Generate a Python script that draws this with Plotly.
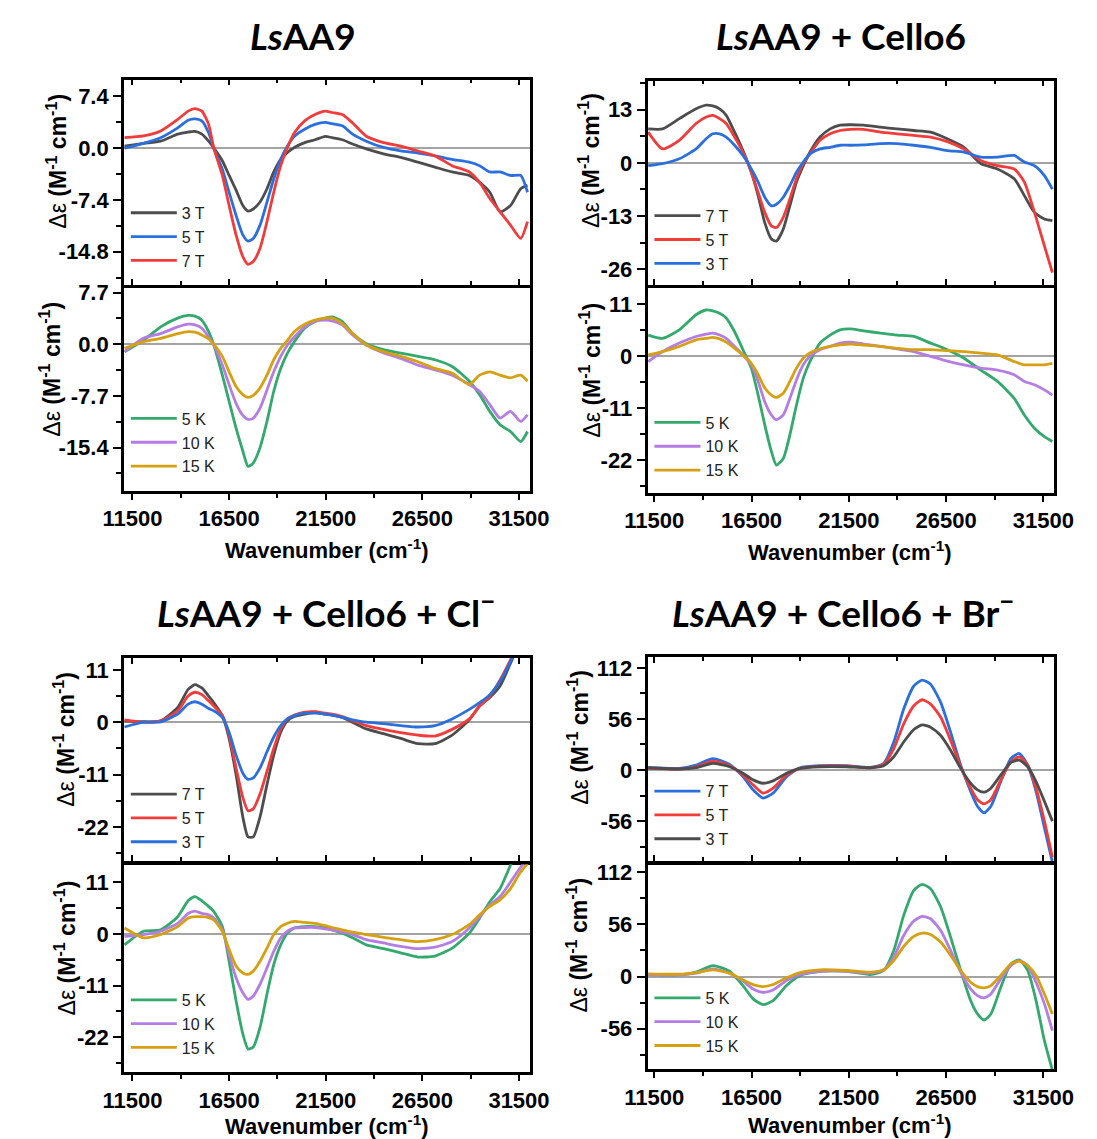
import plotly.graph_objects as go

# ---------------- data ----------------
# wavenumber grids, cm^-1
WN_P13 = [11090, 12070, 12960, 13840, 14380, 14730, 15090, 15440, 15710, 16150,
          16500, 16860, 17210, 17480, 17750, 18100, 18460, 18810, 19170, 19520,
          19880, 20410, 20940, 21470, 21830, 22360, 22890, 23600, 24490, 25380,
          26270, 27150, 28040, 28930, 29460, 29990, 30520, 31060, 31590, 31940]
WN_P2 = [11190, 11930, 12790, 13650, 14170, 14510, 14860, 15200, 15630, 16060,
         16490, 16840, 17180, 17520, 17780, 18130, 18470, 18810, 19160, 19500,
         20020, 20540, 21050, 21570, 22260, 23120, 23980, 24840, 25700, 26560,
         27420, 28280, 29140, 30000, 30520, 31040, 31550, 31960]
WN_P4 = [11190, 12790, 13650, 14510, 15370, 16060, 16580, 17090, 17610, 18300,
         18990, 20020, 21400, 22600, 23290, 23810, 24320, 24840, 25270, 25700,
         26220, 26730, 27250, 27760, 28110, 28450, 28800, 29310, 29830, 30260,
         30690, 31120, 31550, 31960]

# Panel 1: LsAA9
P1_3T = [0.3, 0.7, 1.0, 2.0, 2.3, 2.4, 2.0, 1.0, 0.0, -1.8, -3.9, -6.0, -8.2, -9.0, -8.7, -7.7, -5.8, -3.4, -1.6, -0.6,
         0.1, 0.8, 1.2, 1.7, 1.5, 1.2, 0.6, -0.1, -0.8, -1.3, -2.0, -2.7, -3.4, -3.9, -4.9, -6.3, -9.1, -8.2, -5.8, -5.3]
P1_5T = [0.0, 0.7, 1.5, 2.9, 4.0, 4.2, 3.9, 2.2, 0.0, -3.0, -6.3, -9.6, -12.4, -13.3, -12.9, -11.0, -7.7, -4.4, -1.6, 0.3,
         1.7, 2.7, 3.4, 3.7, 3.5, 3.2, 2.0, 1.0, 0.1, -0.4, -0.7, -1.1, -1.6, -2.0, -2.5, -3.4, -3.4, -3.9, -3.9, -6.3]
P1_7T = [1.5, 1.75, 2.45, 4.1, 5.3, 5.65, 5.3, 3.4, 0.0, -3.9, -8.2, -12.4, -15.5, -16.6, -16.2, -14.3, -10.5, -6.3, -2.5, 0.1,
         2.2, 3.9, 4.8, 5.3, 5.1, 4.8, 3.6, 1.7, 0.8, 0.3, -0.4, -1.1, -2.5, -3.4, -4.9, -7.2, -9.1, -11.0, -12.9, -10.5]
P1_5K = [-1.1, 0.6, 2.6, 3.9, 4.3, 4.2, 3.6, 1.9, -0.1, -4.6, -8.5, -12.5, -15.9, -18.2, -17.7, -15.4, -11.5, -7.0, -3.6, -1.3,
         0.4, 2.4, 3.4, 3.9, 4.1, 3.4, 1.6, 0.1, -0.8, -1.3, -1.8, -2.3, -3.3, -5.5, -7.5, -10.0, -12.0, -13.0, -14.5, -13.0]
P1_10K = [-1.1, 0.9, 1.6, 2.6, 3.0, 2.9, 2.4, 1.1, -0.1, -3.1, -6.0, -8.8, -10.6, -11.2, -11.0, -9.5, -6.8, -4.1, -1.8, -0.1,
          1.1, 2.6, 3.4, 3.6, 3.5, 2.9, 1.4, -0.1, -1.3, -2.1, -3.1, -3.8, -4.6, -6.0, -7.0, -9.0, -11.0, -10.0, -11.5, -10.5]
P1_15K = [-0.6, 0.4, 0.9, 1.6, 1.9, 1.8, 1.4, 0.8, 0.0, -1.8, -4.1, -6.3, -7.5, -7.9, -7.6, -6.5, -4.6, -2.3, -0.6, 0.6,
          1.9, 3.0, 3.6, 3.9, 3.9, 3.1, 1.6, -0.1, -1.1, -1.8, -2.6, -3.6, -4.3, -6.0, -4.6, -4.1, -4.6, -5.0, -4.6, -5.5]

# Panel 2: LsAA9 + Cello6
P2_7T = [8.3, 8.3, 10.8, 13.2, 14.1, 13.9, 13.2, 11.6, 7.5, 3.0, -2.3, -8.0, -14.6, -18.6, -19.1, -16.2, -10.5, -4.7, -0.7, 2.6,
         6.3, 8.3, 9.2, 9.3, 9.2, 8.7, 8.3, 7.9, 7.5, 5.9, 3.8, -0.2, -1.5, -3.9, -8.0, -12.1, -13.7, -14.1]
P2_5T = [7.5, 3.4, 5.5, 9.6, 11.2, 11.6, 10.8, 9.6, 6.3, 2.6, -2.3, -7.2, -12.1, -15.4, -15.8, -13.3, -8.8, -3.9, -0.2, 2.2,
         5.5, 7.1, 7.9, 8.2, 8.2, 7.5, 7.1, 6.7, 6.3, 5.2, 3.4, 0.6, -0.7, -1.5, -4.7, -12.1, -20.3, -26.8]
P2_3T = [-0.7, -0.2, 1.0, 3.4, 5.9, 7.1, 7.1, 6.3, 4.3, 1.8, -1.5, -4.7, -8.4, -10.5, -10.1, -8.4, -5.6, -2.3, 0.2, 2.2,
         3.4, 3.8, 4.3, 4.3, 4.4, 4.7, 4.7, 4.3, 3.8, 3.0, 2.6, 1.4, 1.4, 1.8, 0.2, -0.7, -3.1, -6.4]
P2_5K = [4.4, 3.7, 5.5, 8.7, 9.7, 9.5, 9.0, 8.0, 5.1, 1.3, -2.6, -8.3, -14.6, -20.2, -23.1, -21.7, -16.7, -10.4, -4.7, -1.2,
         2.7, 4.4, 5.5, 5.7, 5.3, 4.8, 4.4, 4.1, 2.7, 1.3, -0.5, -3.0, -5.4, -9.0, -12.5, -15.3, -17.1, -18.1]
P2_10K = [-1.2, 0.9, 2.7, 4.1, 4.6, 4.8, 4.4, 3.7, 2.0, 0.2, -1.9, -5.4, -9.7, -12.5, -13.5, -12.5, -9.0, -5.1, -1.9, -0.1,
          1.3, 2.0, 2.7, 2.9, 2.5, 2.0, 1.5, 0.9, -0.1, -1.1, -1.9, -2.6, -3.0, -4.0, -5.4, -6.1, -7.2, -8.3]
P2_15K = [0.2, 0.9, 2.0, 3.4, 3.7, 3.9, 3.6, 2.9, 1.6, 0.2, -1.6, -4.0, -6.8, -8.3, -8.8, -7.9, -5.4, -2.6, -0.5, 0.6,
          1.5, 2.0, 2.3, 2.5, 2.3, 2.0, 1.6, 1.3, 1.3, 1.1, 0.9, 0.6, 0.2, -1.2, -1.9, -1.9, -1.9, -1.6]

# Panel 3: LsAA9 + Cello6 + Cl-
P3_7T = [0.3, 0.1, 0.3, 3.1, 6.9, 7.9, 7.2, 5.5, 4.1, 1.4, -3.4, -11.0, -19.9, -24.1, -24.1, -19.9, -13.1, -6.9, -2.1, 0.3,
         1.2, 1.7, 2.1, 1.7, 1.5, 1.0, 0.0, -1.4, -2.4, -3.4, -4.5, -4.5, -2.7, 0.5, 3.4, 5.2, 7.6, 12.4, 17.2, 19.5]
P3_5T = [0.5, 0.0, 0.3, 2.4, 5.5, 6.3, 5.8, 4.5, 3.4, 1.4, -2.7, -9.6, -15.8, -18.6, -18.2, -15.1, -10.3, -5.5, -1.4, 0.7,
         1.5, 2.1, 2.2, 1.9, 1.7, 1.2, 0.3, -0.7, -1.5, -2.2, -2.7, -2.9, -1.5, 0.7, 3.4, 5.5, 8.9, 13.1, 17.9, 20.0]
P3_3T = [-1.0, 0.0, 0.1, 1.7, 3.8, 4.3, 3.8, 2.9, 2.4, 1.0, -2.1, -6.9, -10.7, -12.0, -11.7, -9.6, -6.2, -3.1, -0.7, 0.7,
         1.4, 1.9, 1.9, 1.7, 1.5, 1.0, 0.5, 0.0, -0.3, -0.7, -1.0, -0.7, 0.7, 2.7, 4.1, 5.8, 8.6, 12.7, 17.5, 19.5]
P3_5K = [-2.3, 0.6, 0.9, 3.7, 7.1, 8.0, 7.1, 5.9, 4.8, 1.6, -5.8, -14.2, -21.3, -24.5, -24.1, -19.9, -12.8, -6.5, -2.3, 0.2,
         1.3, 1.6, 1.6, 1.3, 0.9, 0.2, -0.8, -2.3, -3.1, -4.0, -4.9, -4.7, -3.0, 0.2, 3.4, 6.9, 9.7, 14.7, 19.6, 22.0]
P3_10K = [-0.5, -0.1, 0.6, 2.3, 4.4, 4.9, 4.4, 4.1, 3.4, 0.9, -4.4, -9.3, -12.5, -13.9, -13.2, -10.7, -7.2, -3.7, -0.8, 0.6,
          1.3, 1.4, 1.4, 1.1, 0.9, 0.4, -0.1, -1.2, -1.9, -2.6, -3.1, -2.8, -1.6, 1.3, 3.7, 6.2, 8.0, 11.1, 14.3, 16.0]
P3_15K = [1.3, -0.8, -0.1, 1.6, 3.4, 3.7, 3.7, 3.5, 3.0, 0.6, -3.3, -6.8, -8.3, -8.6, -7.9, -5.8, -3.0, -0.1, 1.6, 2.3,
          2.7, 2.5, 2.3, 1.8, 1.4, 0.9, 0.4, -0.1, -0.7, -1.2, -1.6, -1.2, -0.1, 2.0, 4.1, 5.9, 7.3, 9.7, 13.3, 15.0]

# Panel 4: LsAA9 + Cello6 + Br-
P4_7T = [2.5, 1.8, 5.4, 12.6, 6.1, -7.2, -21.7, -30.7, -25.3, -7.2, 2.5, 4.7, 4.7, 2.9, 7.2, 30.7, 66.8, 92.1, 98.6, 93.9,
         74.1, 41.5, 5.4, -23.5, -39.7, -47.0, -39.7, -12.6, 12.6, 18.1, 5.4, -23.5, -63.2, -101.0]
P4_5T = [1.8, 1.1, 3.6, 9.8, 4.7, -5.4, -16.3, -25.3, -19.9, -5.4, 1.8, 4.3, 4.3, 2.5, 6.1, 23.5, 50.6, 70.4, 77.0, 72.3,
         57.8, 32.5, 3.6, -19.9, -32.5, -37.2, -32.5, -10.8, 9.0, 14.5, 5.4, -19.9, -56.0, -95.7]
P4_3T = [2.5, 1.1, 2.5, 7.2, 3.6, -3.6, -10.8, -14.5, -11.9, -3.6, 1.8, 3.6, 3.6, 2.5, 4.7, 14.5, 30.7, 44.4, 49.5, 47.0,
         37.9, 21.7, 1.8, -14.5, -21.7, -24.2, -19.9, -5.4, 8.3, 10.8, 3.6, -12.6, -34.3, -56.0]
P4_5K = [2.2, 1.8, 4.7, 11.8, 5.7, -9.7, -24.0, -30.2, -25.8, -9.7, 1.1, 5.7, 5.7, 2.2, 6.5, 28.0, 65.7, 92.6, 99.1, 94.4,
         74.7, 42.4, 6.5, -25.8, -40.2, -46.7, -40.2, -11.5, 13.6, 17.9, 6.5, -25.8, -68.9, -100.5]
P4_10K = [1.8, 1.8, 3.6, 8.3, 3.6, -5.0, -13.3, -16.9, -14.4, -4.3, 2.2, 5.7, 5.7, 3.6, 7.2, 20.8, 44.1, 59.6, 64.6, 62.1,
          49.5, 28.0, 4.7, -13.3, -20.5, -23.0, -18.7, -2.5, 11.8, 17.2, 11.8, -6.1, -29.4, -58.1]
P4_15K = [2.9, 2.5, 4.3, 7.2, 3.6, -3.6, -8.6, -10.8, -8.6, -1.4, 4.3, 7.2, 6.5, 4.7, 7.2, 17.2, 32.3, 43.1, 46.7, 45.2,
          37.0, 22.6, 6.5, -6.1, -10.8, -12.2, -9.7, 1.1, 13.6, 16.5, 11.8, 1.1, -18.7, -40.2]

# tick labels
X_TICKS = [11500, 16500, 21500, 26500, 31500]
X_TICKTEXT = ["11500", "16500", "21500", "26500", "31500"]
Y_TICKS_P1T = [-14.8, -7.4, 0.0, 7.4]
Y_TEXT_P1T = ["-14.8", "-7.4", "0.0", "7.4"]
Y_TICKS_P1B = [-15.4, -7.7, 0.0, 7.7]
Y_TEXT_P1B = ["-15.4", "-7.7", "0.0", "7.7"]
Y_TICKS_P2T = [-26, -13, 0, 13]
Y_TEXT_P2T = ["-26", "-13", "0", "13"]
Y_TICKS_P11 = [-22, -11, 0, 11]
Y_TEXT_P11 = ["-22", "-11", "0", "11"]
Y_TICKS_P4 = [-56, 0, 56, 112]
Y_TEXT_P4 = ["-56", "0", "56", "112"]

TITLES = ["<b><i>Ls</i>AA9</b>", "<b><i>Ls</i>AA9 + Cello6</b>",
          "<b><i>Ls</i>AA9 + Cello6 + Cl<sup>\u2212</sup></b>",
          "<b><i>Ls</i>AA9 + Cello6 + Br<sup>\u2212</sup></b>"]
XLABEL = "<b>Wavenumber (cm<sup>-1</sup>)</b>"
YLABEL = "\u0394\u03b5 <b>(M<sup>-1</sup> cm<sup>-1</sup>)</b>"

GREY, RED, BLUE = "#4d4d4d", "#f23b3b", "#2b6fdc"
GREEN, PURPLE, GOLD = "#33a96d", "#b47de4", "#d6a013"

# ---------------- layout geometry (pixels) ----------------
W, H = 1097, 1139
def fx(p):
    return p / W
def fy(p):
    return 1 - p / H

LW = 2.5  # frame line width
LEFT_X = (105, 528)
RIGHT_X = (650, 1073)
XR_LEFT = [11056, 32085]
XR_RIGHT = [11156, 32040]

# (xpix, ypix(top,bottom), xrange, yrange, yticks, ytext, yminor, bottom?)
SUBS = [
    (LEFT_X, (73, 280), XR_LEFT, [-19.6, 9.81], Y_TICKS_P1T, Y_TEXT_P1T, 3.7, False),
    (LEFT_X, (280 + LW, 487), XR_LEFT, [-21.87, 8.43], Y_TICKS_P1B, Y_TEXT_P1B, 3.85, True),
    (RIGHT_X, (74, 280), XR_RIGHT, [-29.9, 20.1], Y_TICKS_P2T, Y_TEXT_P2T, 6.5, False),
    (RIGHT_X, (280 + LW, 489), XR_RIGHT, [-29.0, 14.4], Y_TICKS_P11, Y_TEXT_P11, 5.5, True),
    (LEFT_X, (655, 860), XR_LEFT, [-29.3, 13.5], Y_TICKS_P11, Y_TEXT_P11, 5.5, False),
    (LEFT_X, (860 + LW, 1072), XR_LEFT, [-29.5, 14.9], Y_TICKS_P11, Y_TEXT_P11, 5.5, True),
    (RIGHT_X, (654, 860), XR_RIGHT, [-100.5, 123.9], Y_TICKS_P4, Y_TEXT_P4, 28, False),
    (RIGHT_X, (860 + LW, 1069), XR_RIGHT, [-99.8, 120.7], Y_TICKS_P4, Y_TEXT_P4, 28, True),
]

SERIES = [
    (WN_P13, [(P1_3T, "3 T", GREY), (P1_5T, "5 T", BLUE), (P1_7T, "7 T", RED)]),
    (WN_P13, [(P1_5K, "5 K", GREEN), (P1_10K, "10 K", PURPLE), (P1_15K, "15 K", GOLD)]),
    (WN_P2, [(P2_7T, "7 T", GREY), (P2_5T, "5 T", RED), (P2_3T, "3 T", BLUE)]),
    (WN_P2, [(P2_5K, "5 K", GREEN), (P2_10K, "10 K", PURPLE), (P2_15K, "15 K", GOLD)]),
    (WN_P13, [(P3_7T, "7 T", GREY), (P3_5T, "5 T", RED), (P3_3T, "3 T", BLUE)]),
    (WN_P13, [(P3_5K, "5 K", GREEN), (P3_10K, "10 K", PURPLE), (P3_15K, "15 K", GOLD)]),
    (WN_P4, [(P4_7T, "7 T", BLUE), (P4_5T, "5 T", RED), (P4_3T, "3 T", GREY)]),
    (WN_P4, [(P4_5K, "5 K", GREEN), (P4_10K, "10 K", PURPLE), (P4_15K, "15 K", GOLD)]),
]

# legend top-left (pixels)
LEG_POS = [(107, 190), (107, 397), (652, 193), (652, 401),
           (107, 775), (107, 982), (652, 772), (652, 980)]

fig = go.Figure()
layout = dict(width=W, height=H, margin=dict(l=0, r=0, t=0, b=0), autosize=False,
              plot_bgcolor="white", paper_bgcolor="white", showlegend=True)

TICKFONT = dict(family="Liberation Sans, Arial, sans-serif", size=22, color="black", weight="bold")

for i, (sub, ser) in enumerate(zip(SUBS, SERIES)):
    n = i + 1
    (xp, yp, xr, yr, yt, ytt, ymin, bottom) = sub
    xk = "xaxis" if n == 1 else f"xaxis{n}"
    yk = "yaxis" if n == 1 else f"yaxis{n}"
    xa = "x" if n == 1 else f"x{n}"
    ya = "y" if n == 1 else f"y{n}"
    lk = "legend" if n == 1 else f"legend{n}"
    tickdir = "outside" if bottom else "inside"
    layout[xk] = dict(domain=[fx(xp[0]), fx(xp[1])], anchor=ya, range=xr,
                      showline=True, linecolor="black", linewidth=LW, mirror="ticks",
                      ticks=tickdir, ticklen=6, tickwidth=2, tickcolor="black",
                      tickmode="array", tickvals=X_TICKS, ticktext=X_TICKTEXT,
                      showticklabels=bottom, tickfont=TICKFONT,
                      minor=dict(ticks=tickdir, ticklen=4, tickwidth=2, tickcolor="black",
                                 tick0=11500, dtick=2500),
                      showgrid=False, zeroline=False)
    layout[yk] = dict(domain=[fy(yp[1]), fy(yp[0])], anchor=xa, range=yr,
                      showline=True, linecolor="black", linewidth=LW, mirror=True,
                      ticks="outside", ticklen=8, tickwidth=2, tickcolor="black",
                      tickmode="array", tickvals=yt, ticktext=ytt, tickfont=TICKFONT,
                      minor=dict(ticks="outside", ticklen=5, tickwidth=2, tickcolor="black",
                                 tick0=0, dtick=ymin),
                      showgrid=False, zeroline=True, zerolinecolor="#a3a3a3", zerolinewidth=1.5)
    lx, ly = LEG_POS[i]
    layout[lk] = dict(x=fx(lx), y=fy(ly), xanchor="left", yanchor="top",
                      bgcolor="rgba(0,0,0,0)", borderwidth=0, traceorder="normal",
                      font=dict(family="Liberation Sans, Arial, sans-serif", size=16, color="#222"),
                      tracegroupgap=0, itemwidth=46)
    wn, lines = ser
    for vals, name, col in lines:
        fig.add_trace(go.Scatter(x=wn, y=vals, mode="lines", name=name,
                                 line=dict(color=col, width=2.8, shape="spline", smoothing=0.6),
                                 xaxis=xa, yaxis=ya, legend=lk, hoverinfo="skip"))

ann = []
TITLE_POS = [(291, 29), (851, 29), (315, 607), (853, 607)]
for t, (px, py) in zip(TITLES, TITLE_POS):
    ann.append(dict(text=t, x=fx(px), y=fy(py), xref="paper", yref="paper",
                    xanchor="center", yanchor="middle", showarrow=False,
                    font=dict(family="Lato, Open Sans, sans-serif", size=37, color="black")))
XLAB_POS = [(316, 545), (861, 547), (316, 1125), (861, 1124)]
for px, py in XLAB_POS:
    ann.append(dict(text=XLABEL, x=fx(px), y=fy(py), xref="paper", yref="paper",
                    xanchor="center", yanchor="middle", showarrow=False,
                    font=dict(family="Liberation Sans, Arial, sans-serif", size=22, color="black")))
YLAB_POS = [(35, 155), (28, 364), (589, 154), (590, 365),
            (43, 737), (44, 947), (578, 735), (577, 944)]
for px, py in YLAB_POS:
    ann.append(dict(text=YLABEL, x=fx(px), y=fy(py), xref="paper", yref="paper",
                    xanchor="center", yanchor="middle", showarrow=False, textangle=-90,
                    font=dict(family="Liberation Sans, Arial, sans-serif", size=23, color="black")))
layout["annotations"] = ann

fig.update_layout(**layout)
fig.write_html("out.html")
